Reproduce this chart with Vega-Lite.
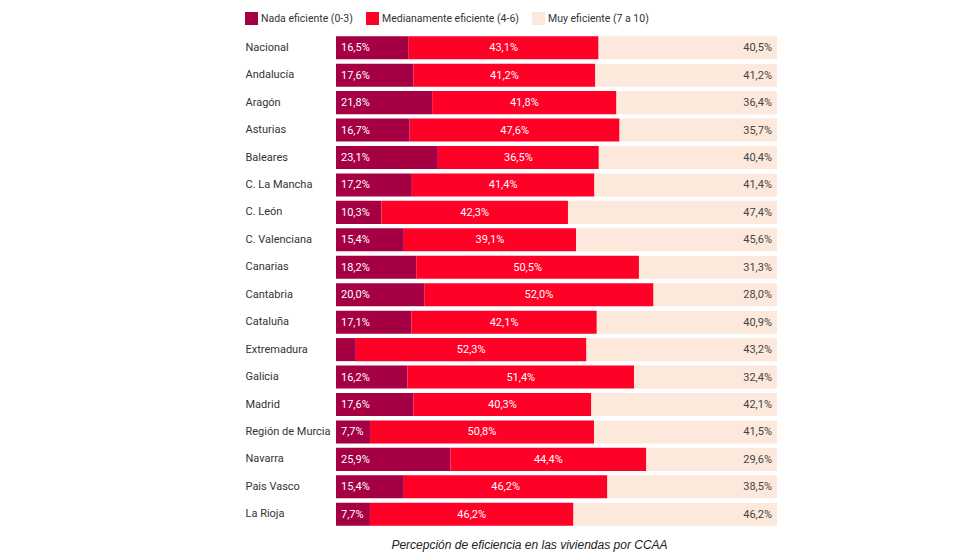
{
  "$schema": "https://vega.github.io/schema/vega-lite/v6.json",
  "width": 441,
  "height": 494,
  "padding": {"left": 245, "top": 12, "right": 10, "bottom": 5},
  "title": {
    "text": "Percepción de eficiencia en las viviendas por CCAA",
    "orient": "bottom",
    "anchor": "middle",
    "font": "Liberation Sans",
    "fontStyle": "italic",
    "fontWeight": "normal",
    "fontSize": 12,
    "color": "#222222",
    "offset": 12,
    "dx": -27
  },
  "data": {
    "values": [
      {"region": "Nacional", "nivel": "Nada eficiente (0-3)", "orden": 1, "value": 0.165},
      {"region": "Nacional", "nivel": "Medianamente eficiente (4-6)", "orden": 2, "value": 0.431},
      {"region": "Nacional", "nivel": "Muy eficiente (7 a 10)", "orden": 3, "value": 0.405},
      {"region": "Andalucía", "nivel": "Nada eficiente (0-3)", "orden": 1, "value": 0.176},
      {"region": "Andalucía", "nivel": "Medianamente eficiente (4-6)", "orden": 2, "value": 0.412},
      {"region": "Andalucía", "nivel": "Muy eficiente (7 a 10)", "orden": 3, "value": 0.412},
      {"region": "Aragón", "nivel": "Nada eficiente (0-3)", "orden": 1, "value": 0.218},
      {"region": "Aragón", "nivel": "Medianamente eficiente (4-6)", "orden": 2, "value": 0.418},
      {"region": "Aragón", "nivel": "Muy eficiente (7 a 10)", "orden": 3, "value": 0.364},
      {"region": "Asturias", "nivel": "Nada eficiente (0-3)", "orden": 1, "value": 0.167},
      {"region": "Asturias", "nivel": "Medianamente eficiente (4-6)", "orden": 2, "value": 0.476},
      {"region": "Asturias", "nivel": "Muy eficiente (7 a 10)", "orden": 3, "value": 0.357},
      {"region": "Baleares", "nivel": "Nada eficiente (0-3)", "orden": 1, "value": 0.231},
      {"region": "Baleares", "nivel": "Medianamente eficiente (4-6)", "orden": 2, "value": 0.365},
      {"region": "Baleares", "nivel": "Muy eficiente (7 a 10)", "orden": 3, "value": 0.404},
      {"region": "C. La Mancha", "nivel": "Nada eficiente (0-3)", "orden": 1, "value": 0.172},
      {"region": "C. La Mancha", "nivel": "Medianamente eficiente (4-6)", "orden": 2, "value": 0.414},
      {"region": "C. La Mancha", "nivel": "Muy eficiente (7 a 10)", "orden": 3, "value": 0.414},
      {"region": "C. León", "nivel": "Nada eficiente (0-3)", "orden": 1, "value": 0.103},
      {"region": "C. León", "nivel": "Medianamente eficiente (4-6)", "orden": 2, "value": 0.423},
      {"region": "C. León", "nivel": "Muy eficiente (7 a 10)", "orden": 3, "value": 0.474},
      {"region": "C. Valenciana", "nivel": "Nada eficiente (0-3)", "orden": 1, "value": 0.154},
      {"region": "C. Valenciana", "nivel": "Medianamente eficiente (4-6)", "orden": 2, "value": 0.391},
      {"region": "C. Valenciana", "nivel": "Muy eficiente (7 a 10)", "orden": 3, "value": 0.456},
      {"region": "Canarias", "nivel": "Nada eficiente (0-3)", "orden": 1, "value": 0.182},
      {"region": "Canarias", "nivel": "Medianamente eficiente (4-6)", "orden": 2, "value": 0.505},
      {"region": "Canarias", "nivel": "Muy eficiente (7 a 10)", "orden": 3, "value": 0.313},
      {"region": "Cantabria", "nivel": "Nada eficiente (0-3)", "orden": 1, "value": 0.200},
      {"region": "Cantabria", "nivel": "Medianamente eficiente (4-6)", "orden": 2, "value": 0.520},
      {"region": "Cantabria", "nivel": "Muy eficiente (7 a 10)", "orden": 3, "value": 0.280},
      {"region": "Cataluña", "nivel": "Nada eficiente (0-3)", "orden": 1, "value": 0.171},
      {"region": "Cataluña", "nivel": "Medianamente eficiente (4-6)", "orden": 2, "value": 0.421},
      {"region": "Cataluña", "nivel": "Muy eficiente (7 a 10)", "orden": 3, "value": 0.409},
      {"region": "Extremadura", "nivel": "Nada eficiente (0-3)", "orden": 1, "value": 0.045},
      {"region": "Extremadura", "nivel": "Medianamente eficiente (4-6)", "orden": 2, "value": 0.523},
      {"region": "Extremadura", "nivel": "Muy eficiente (7 a 10)", "orden": 3, "value": 0.432},
      {"region": "Galicia", "nivel": "Nada eficiente (0-3)", "orden": 1, "value": 0.162},
      {"region": "Galicia", "nivel": "Medianamente eficiente (4-6)", "orden": 2, "value": 0.514},
      {"region": "Galicia", "nivel": "Muy eficiente (7 a 10)", "orden": 3, "value": 0.324},
      {"region": "Madrid", "nivel": "Nada eficiente (0-3)", "orden": 1, "value": 0.176},
      {"region": "Madrid", "nivel": "Medianamente eficiente (4-6)", "orden": 2, "value": 0.403},
      {"region": "Madrid", "nivel": "Muy eficiente (7 a 10)", "orden": 3, "value": 0.421},
      {"region": "Región de Murcia", "nivel": "Nada eficiente (0-3)", "orden": 1, "value": 0.077},
      {"region": "Región de Murcia", "nivel": "Medianamente eficiente (4-6)", "orden": 2, "value": 0.508},
      {"region": "Región de Murcia", "nivel": "Muy eficiente (7 a 10)", "orden": 3, "value": 0.415},
      {"region": "Navarra", "nivel": "Nada eficiente (0-3)", "orden": 1, "value": 0.259},
      {"region": "Navarra", "nivel": "Medianamente eficiente (4-6)", "orden": 2, "value": 0.444},
      {"region": "Navarra", "nivel": "Muy eficiente (7 a 10)", "orden": 3, "value": 0.296},
      {"region": "Pais Vasco", "nivel": "Nada eficiente (0-3)", "orden": 1, "value": 0.154},
      {"region": "Pais Vasco", "nivel": "Medianamente eficiente (4-6)", "orden": 2, "value": 0.462},
      {"region": "Pais Vasco", "nivel": "Muy eficiente (7 a 10)", "orden": 3, "value": 0.385},
      {"region": "La Rioja", "nivel": "Nada eficiente (0-3)", "orden": 1, "value": 0.077},
      {"region": "La Rioja", "nivel": "Medianamente eficiente (4-6)", "orden": 2, "value": 0.462},
      {"region": "La Rioja", "nivel": "Muy eficiente (7 a 10)", "orden": 3, "value": 0.462}
    ]
  },
  "transform": [
    {"stack": "value", "groupby": ["region"], "sort": [{"field": "orden"}], "offset": "normalize", "as": ["v0", "v1"]}
  ],
  "encoding": {
    "y": {
      "field": "region",
      "type": "nominal",
      "title": null,
      "sort": ["Nacional", "Andalucía", "Aragón", "Asturias", "Baleares", "C. La Mancha", "C. León", "C. Valenciana", "Canarias", "Cantabria", "Cataluña", "Extremadura", "Galicia", "Madrid", "Región de Murcia", "Navarra", "Pais Vasco", "La Rioja"],
      "scale": {"paddingInner": 0.16, "paddingOuter": 0.08},
      "axis": {
        "domain": false,
        "ticks": false,
        "tickSize": 0,
        "labelAlign": "left",
        "labelPadding": 91,
        "labelFont": "Roboto",
        "labelFontSize": 11,
        "labelColor": "#333333"
      }
    }
  },
  "layer": [
    {
      "mark": {"type": "bar"},
      "encoding": {
        "x": {"field": "v0", "type": "quantitative", "scale": {"domain": [0, 1], "nice": false}, "axis": null},
        "x2": {"field": "v1"},
        "color": {
          "field": "nivel",
          "type": "nominal",
          "scale": {
            "domain": ["Nada eficiente (0-3)", "Medianamente eficiente (4-6)", "Muy eficiente (7 a 10)"],
            "range": ["#A50044", "#FF0027", "#FDE9DC"]
          },
          "legend": {
            "title": null,
            "orient": "none",
            "legendX": -91,
            "legendY": -22,
            "direction": "horizontal",
            "symbolType": "square",
            "symbolSize": 169,
            "symbolStrokeWidth": 0,
            "labelFont": "Roboto",
            "labelFontSize": 10.5,
            "labelColor": "#333333",
            "labelOffset": 3,
            "columnPadding": 13
          }
        }
      }
    },
    {
      "transform": [{"filter": "datum.orden == 1 && datum.value >= 0.05"}],
      "mark": {"type": "text", "align": "left", "baseline": "middle", "dx": 5, "dy": 0.5, "font": "Roboto", "fontSize": 11, "color": "#ffffff"},
      "encoding": {
        "x": {"field": "v0", "type": "quantitative"},
        "text": {"field": "value", "type": "quantitative", "format": ".1%"}
      }
    },
    {
      "transform": [
        {"filter": "datum.orden == 2"},
        {"fold": ["v0", "v1"], "as": ["k", "pos"]},
        {"aggregate": [{"op": "mean", "field": "pos", "as": "mid"}], "groupby": ["region", "value"]}
      ],
      "mark": {"type": "text", "align": "center", "baseline": "middle", "dy": 0.5, "font": "Roboto", "fontSize": 11, "color": "#ffffff"},
      "encoding": {
        "x": {"field": "mid", "type": "quantitative"},
        "text": {"field": "value", "type": "quantitative", "format": ".1%"}
      }
    },
    {
      "transform": [{"filter": "datum.orden == 3"}],
      "mark": {"type": "text", "align": "right", "baseline": "middle", "dx": -5, "dy": 0.5, "font": "Roboto", "fontSize": 11, "color": "#444444"},
      "encoding": {
        "x": {"field": "v1", "type": "quantitative"},
        "text": {"field": "value", "type": "quantitative", "format": ".1%"}
      }
    }
  ],
  "config": {
    "view": {"stroke": null},
    "locale": {"number": {"decimal": ",", "thousands": ".", "grouping": [3], "currency": ["", " €"]}}
  }
}
